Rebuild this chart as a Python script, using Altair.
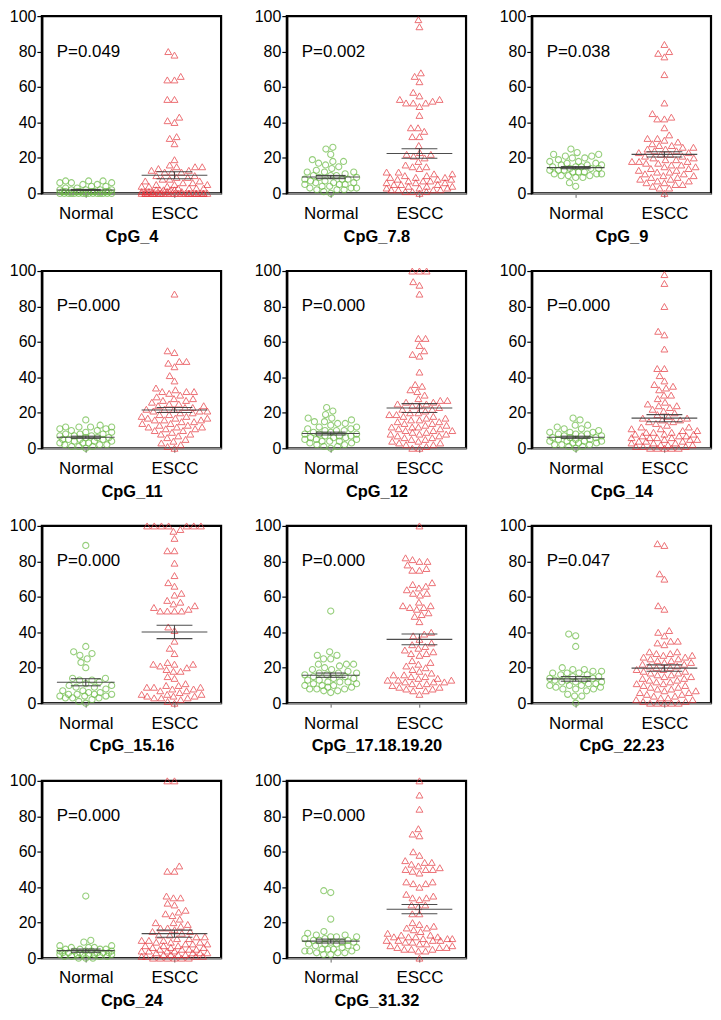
import altair as alt
import pandas as pd
import numpy as np

# ---------------- data ----------------
PANELS = ["CpG_4", "CpG_7.8", "CpG_9", "CpG_11", "CpG_12", "CpG_14",
          "CpG_15.16", "CpG_17.18.19.20", "CpG_22.23", "CpG_24", "CpG_31.32"]
GROUPS = ["Normal", "ESCC"]
P_VALUES = ["P=0.049", "P=0.002", "P=0.038", "P=0.000", "P=0.000", "P=0.000",
            "P=0.000", "P=0.000", "P=0.047", "P=0.000", "P=0.000"]
Y_TICKS = [0, 20, 40, 60, 80, 100]
NORMAL_MEAN = [1.9, 9.2, 14.5, 6.2, 8.3, 6.2, 11.8, 15.8, 13.7, 4.2, 9.6]
NORMAL_SEM = [0.3, 0.9, 0.6, 0.6, 0.8, 0.6, 2.0, 1.2, 1.3, 0.9, 1.1]
ESCC_MEAN = [10.2, 22.5, 22.0, 21.6, 22.7, 17.0, 40.2, 36.0, 19.8, 13.8, 27.6]
ESCC_SEM = [2.0, 2.7, 1.5, 1.4, 2.5, 2.0, 3.8, 3.0, 1.8, 2.0, 2.6]

normal_4 = [7, 7, 7, 6, 6, 6, 5, 5, 4, 4, 3, 3, 2, 2, 2, 2, 2, 1, 1, 1, 1, 1, 1, 1, 1,
            0, 0, 0, 0, 0, 0, 0, 0, 0, 0, 0, 0, 0, 0, 0]
escc_4 = [80, 78, 66, 64, 64, 53, 53, 43, 41, 40, 32, 31, 28, 19, 16, 15, 15, 15, 14, 13, 13,
          12, 12, 12, 10, 10, 9, 9, 8, 8, 7, 7, 6, 6, 5, 5, 5, 4, 4, 4, 3, 3, 3, 3, 2, 2, 2,
          2, 2, 1, 1, 1, 1, 1, 1, 0, 0, 0, 0, 0, 0, 0, 0, 0, 0, 0, 0, 0, 0, 0, 0, 0, 0, 0,
          0, 0, 0, 0, 0, 0]
normal_78 = [26, 25, 22, 19, 18, 18, 17, 16, 15, 14, 13, 12, 12, 12, 11, 10, 10, 10, 9, 9,
             8, 8, 8, 7, 7, 6, 6, 6, 5, 5, 5, 4, 4, 3, 3, 3, 2, 2, 2, 1, 0]
escc_78 = [98, 94, 68, 66, 63, 57, 55, 53, 53, 52, 51, 51, 51, 49, 44, 37, 37, 35, 32, 32,
           27, 23, 22, 22, 21, 20, 18, 16, 15, 15, 14, 12, 12, 11, 11, 10, 10, 9, 9, 9, 8, 8,
           8, 7, 7, 7, 6, 6, 6, 5, 5, 5, 4, 4, 4, 3, 3, 3, 2, 2, 2, 2, 1, 1, 1, 0]
normal_9 = [25, 23, 22, 22, 21, 21, 20, 20, 19, 18, 18, 17, 17, 16, 16, 16, 15, 15, 15, 14,
            14, 14, 13, 13, 13, 12, 12, 12, 11, 11, 11, 10, 10, 10, 9, 9, 6, 4]
escc_9 = [84, 80, 79, 77, 67, 51, 45, 43, 42, 42, 37, 33, 31, 31, 30, 29, 28, 27, 27, 26, 26,
          25, 25, 24, 24, 23, 23, 22, 22, 21, 21, 20, 20, 19, 19, 18, 18, 18, 17, 17, 16, 16,
          15, 15, 14, 14, 13, 13, 12, 12, 11, 11, 10, 10, 9, 9, 8, 8, 7, 7, 6, 6, 5, 5, 4, 3,
          3, 0]
normal_11 = [16, 13, 12, 12, 12, 12, 11, 11, 10, 10, 9, 9, 8, 8, 8, 7, 7, 7, 6, 6, 6, 5, 5,
             5, 5, 4, 4, 4, 3, 3, 3, 2, 2, 2, 1, 1, 1, 0]
escc_11 = [87, 55, 54, 49, 49, 48, 46, 41, 38, 34, 33, 32, 32, 32, 31, 30, 29, 28, 28, 27, 27,
           26, 25, 25, 24, 24, 23, 23, 22, 22, 22, 21, 21, 21, 20, 20, 19, 19, 18, 18, 17, 17,
           17, 16, 16, 16, 15, 15, 14, 14, 13, 13, 12, 12, 12, 11, 11, 10, 10, 9, 8, 8, 7, 6,
           5, 4, 3, 2, 1, 0]
normal_12 = [23, 21, 19, 17, 17, 16, 15, 15, 14, 14, 13, 12, 12, 11, 11, 10, 10, 10, 9, 9, 8,
             8, 8, 7, 7, 7, 6, 6, 6, 5, 5, 5, 4, 4, 4, 3, 3, 2, 2, 1, 1, 0]
escc_12 = [100, 100, 100, 94, 92, 87, 62, 62, 58, 55, 53, 52, 43, 36, 35, 33, 32, 30, 28, 27,
           27, 26, 26, 25, 25, 24, 24, 23, 22, 22, 21, 20, 20, 19, 19, 18, 18, 17, 17, 16, 16,
           15, 15, 14, 14, 13, 13, 12, 12, 12, 11, 11, 10, 10, 10, 9, 9, 8, 8, 8, 7, 7, 6, 6,
           5, 5, 4, 4, 3, 3, 2, 2, 1, 0, 0]
normal_14 = [17, 16, 13, 13, 12, 11, 11, 10, 9, 9, 9, 8, 8, 8, 7, 7, 7, 6, 6, 6, 5, 5, 5, 4,
             4, 4, 4, 3, 3, 3, 2, 2, 2, 1, 1, 0]
escc_14 = [98, 93, 80, 66, 64, 56, 45, 45, 41, 38, 36, 35, 34, 33, 30, 30, 28, 26, 25, 24, 24,
           23, 22, 21, 20, 19, 18, 17, 17, 16, 16, 15, 15, 14, 13, 12, 12, 11, 11, 10, 10, 9,
           9, 9, 8, 8, 8, 7, 7, 7, 6, 6, 6, 6, 5, 5, 5, 4, 4, 4, 3, 3, 3, 2, 2, 2, 1, 1, 1, 0,
           0, 0, 0, 0]
normal_1516 = [89, 32, 29, 28, 27, 25, 23, 20, 14, 14, 13, 13, 12, 11, 10, 10, 9, 9, 8, 7, 7,
               6, 6, 5, 5, 5, 5, 4, 4, 4, 3, 3, 3, 2, 1, 0]
escc_1516 = [100, 100, 100, 100, 100, 100, 100, 98, 97, 93, 86, 86, 79, 72, 68, 66, 62, 61,
             58, 57, 56, 55, 54, 53, 52, 52, 52, 52, 43, 41, 35, 31, 28, 23, 22, 22, 22, 21,
             20, 19, 18, 18, 15, 14, 11, 10, 10, 9, 9, 9, 8, 8, 7, 7, 6, 5, 5, 5, 4, 4, 4, 3,
             3, 3, 2, 1, 0]
normal_17 = [52, 29, 27, 27, 25, 25, 22, 22, 22, 21, 20, 19, 19, 18, 17, 17, 17, 16, 16, 15,
             15, 14, 14, 13, 13, 12, 12, 12, 11, 11, 10, 10, 10, 9, 9, 8, 8, 8, 7, 7, 6]
escc_17 = [100, 82, 81, 80, 80, 78, 76, 75, 75, 68, 67, 66, 65, 64, 62, 62, 61, 57, 55, 55,
           54, 54, 53, 51, 50, 49, 46, 40, 39, 38, 36, 34, 33, 32, 31, 30, 29, 28, 28, 27, 24,
           23, 22, 21, 20, 19, 18, 17, 16, 16, 15, 15, 14, 14, 13, 13, 13, 12, 12, 12, 11, 11,
           10, 10, 9, 9, 8, 8, 7, 7, 5]
normal_2223 = [39, 38, 32, 20, 19, 19, 18, 18, 17, 17, 17, 16, 16, 15, 15, 14, 14, 13, 13, 13,
               12, 12, 12, 11, 11, 10, 10, 10, 9, 9, 8, 8, 8, 7, 5, 4, 4, 0]
escc_2223 = [90, 89, 73, 70, 55, 53, 41, 40, 38, 35, 35, 34, 33, 29, 29, 28, 28, 27, 27, 26,
             26, 25, 25, 24, 24, 23, 23, 22, 22, 21, 21, 20, 20, 19, 19, 18, 18, 17, 17, 16,
             16, 15, 15, 14, 14, 13, 13, 12, 12, 11, 11, 10, 10, 9, 9, 8, 8, 7, 7, 6, 6, 5, 5,
             4, 4, 3, 3, 2, 2, 1, 1, 0, 0, 0, 0, 0]
normal_24 = [35, 10, 9, 7, 7, 6, 6, 6, 5, 5, 5, 5, 4, 4, 4, 4, 4, 3, 3, 3, 3, 3, 3, 2, 2, 2,
             2, 2, 2, 1, 1, 1, 1, 0, 0, 0]
escc_24 = [100, 100, 52, 49, 49, 35, 34, 34, 31, 30, 27, 26, 25, 24, 22, 20, 20, 19, 18, 17,
           17, 16, 15, 15, 14, 13, 13, 12, 12, 11, 11, 10, 10, 10, 9, 9, 9, 8, 8, 8, 7, 7, 7,
           6, 6, 6, 5, 5, 5, 5, 4, 4, 4, 4, 3, 3, 3, 3, 2, 2, 2, 2, 1, 1, 1, 1, 0, 0, 0, 0, 0,
           0]
normal_3132 = [38, 37, 22, 15, 14, 13, 13, 12, 12, 12, 11, 11, 10, 10, 10, 9, 9, 9, 8, 8, 8,
               7, 7, 6, 6, 5, 5, 5, 4, 4, 4, 3, 3, 3, 2, 2]
escc_3132 = [100, 92, 84, 73, 70, 69, 60, 58, 55, 54, 54, 53, 52, 51, 50, 50, 50, 49, 48, 43,
             43, 42, 42, 40, 36, 35, 34, 34, 33, 30, 30, 29, 25, 25, 20, 19, 18, 17, 17, 16,
             15, 14, 13, 13, 12, 12, 12, 12, 11, 11, 11, 10, 10, 10, 10, 9, 9, 8, 8, 7, 7, 6,
             6, 6, 5, 5, 5, 4, 4, 0]

NORMAL = [normal_4, normal_78, normal_9, normal_11, normal_12, normal_14,
          normal_1516, normal_17, normal_2223, normal_24, normal_3132]
ESCC = [escc_4, escc_78, escc_9, escc_11, escc_12, escc_14,
        escc_1516, escc_17, escc_2223, escc_24, escc_3132]

# ---------------- layout / style ----------------
PW, PH = 180, 178
X_CENTER = [0.245, 0.74]
P_TEXT_Y = 80
GREEN = "#6bbb45"
RED = "#e5333a"
LINE = "#3a3a3a"
FONT = "Liberation Sans"
DIAM = 7.2


def swarm(values, maxw):
    """Greedy beeswarm: horizontal pixel offsets so markers do not overlap."""
    order = sorted(range(len(values)), key=lambda i: values[i])
    placed = []
    offs = [0.0] * len(values)
    for i in order:
        y = values[i] * PH / 100.0
        near = [(px, py) for px, py in placed if abs(py - y) < DIAM]
        cands = [0.0]
        for px, py in near:
            h = (DIAM * DIAM - (py - y) ** 2) ** 0.5
            cands += [px - h, px + h]
        cands.sort(key=lambda c: (abs(c), c))
        chosen = None
        for c in cands:
            if abs(c) > maxw + 1e-6:
                continue
            if all((c - px) ** 2 + (y - py) ** 2 >= DIAM * DIAM - 1e-6 for px, py in near):
                chosen = c
                break
        if chosen is None:
            grid = np.linspace(-maxw, maxw, 19)
            chosen = float(max(grid, key=lambda c: min((c - px) ** 2 + (y - py) ** 2
                                                       for px, py in near)))
        placed.append((chosen, y))
        offs[i] = chosen
    return offs


label_expr = f"datum.value < 0.5 ? '{GROUPS[0]}' : '{GROUPS[1]}'"


def panel(k):
    xaxis = alt.Axis(values=X_CENTER, labelExpr=label_expr, title=PANELS[k])
    xs = alt.Scale(domain=[0, 1])
    ys = alt.Scale(domain=[0, 100], nice=False)
    yaxis = alt.Axis(values=Y_TICKS, tickCount=6, title=None, labelOverlap=False)

    n_off = swarm(NORMAL[k], 26)
    e_off = swarm(ESCC[k], 33)
    dn = pd.DataFrame({"x": [X_CENTER[0] + o / PW for o in n_off], "y": NORMAL[k]})
    de = pd.DataFrame({"x": [X_CENTER[1] + o / PW for o in e_off], "y": ESCC[k]})

    X = alt.X("x:Q", scale=xs, axis=xaxis)
    Y = alt.Y("y:Q", scale=ys, axis=yaxis)

    normal = alt.Chart(dn).mark_point(shape="circle", filled=False, size=38,
                                      color=GREEN, strokeWidth=1.1).encode(x=X, y=Y)
    escc = alt.Chart(de).mark_point(shape="triangle-up", filled=False, size=48,
                                    color=RED, strokeWidth=1.0).encode(x=X, y=Y)

    rows = []
    for g, (m, s, wm, ws) in enumerate([(NORMAL_MEAN[k], NORMAL_SEM[k], 29, 15),
                                         (ESCC_MEAN[k], ESCC_SEM[k], 33, 18)]):
        c = X_CENTER[g]
        rows.append({"x": c - wm / PW, "x2": c + wm / PW, "y": m, "y2": m})
        rows.append({"x": c - ws / PW, "x2": c + ws / PW, "y": m + s, "y2": m + s})
        rows.append({"x": c - ws / PW, "x2": c + ws / PW, "y": m - s, "y2": m - s})
        rows.append({"x": c, "x2": c, "y": m - s, "y2": m + s})
    rules = alt.Chart(pd.DataFrame(rows)).mark_rule(color=LINE, strokeWidth=1.1,
                                                     opacity=0.9).encode(
        x=X, x2="x2:Q", y=Y, y2="y2:Q")

    ptext = alt.Chart(pd.DataFrame({"t": [P_VALUES[k]], "y": [P_TEXT_Y]})).mark_text(
        align="left", baseline="middle", fontSize=17, font=FONT, color="black"
    ).encode(x=alt.value(15), y=Y, text="t:N")

    return alt.layer(normal, escc, rules, ptext).properties(width=PW, height=PH)


panels = [panel(k) for k in range(len(PANELS))]
rows = [alt.hconcat(*panels[i:i + 3], spacing=30) for i in range(0, len(panels), 3)]
chart = alt.vconcat(*rows, spacing=15).properties(
    padding={"top": -4, "left": 0, "right": 0, "bottom": 0},
    background="white"
).configure_view(
    stroke="black", strokeWidth=2.2
).configure_axisY(
    domainColor="black", domainWidth=2.2, tickColor="black", tickSize=5, tickWidth=1.2,
    labelFontSize=16, labelFont=FONT, labelColor="black", labelPadding=1, grid=False,
    labelOverlap=False
).configure_axisX(
    domainColor="#8a8a8a", domainWidth=1.8, tickColor="#666", tickSize=4,
    labelFontSize=17, labelFont=FONT, labelColor="black", labelPadding=8,
    titleFontSize=16.5, titleFont=FONT, titleFontWeight="bold", titleColor="black",
    titlePadding=7, grid=False, labelOverlap=False
)

chart.save("out.html", embed_options={"renderer": "svg", "actions": False})
